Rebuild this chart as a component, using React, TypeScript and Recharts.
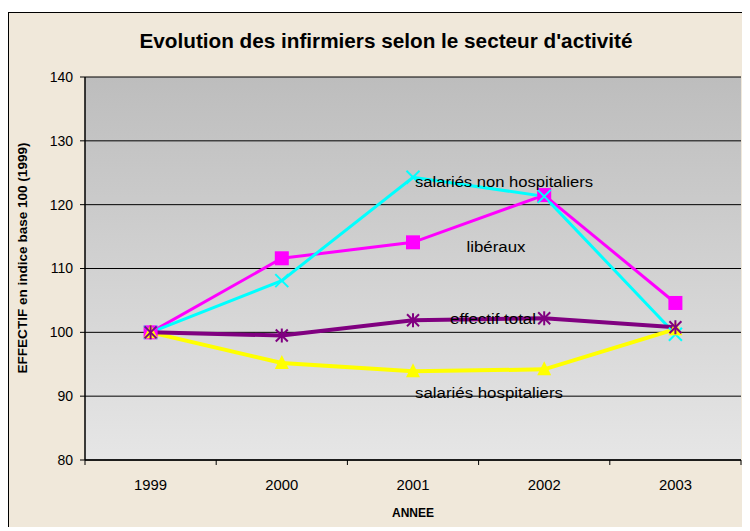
import React from 'react';
import { LineChart, Line, XAxis, YAxis, CartesianGrid } from 'recharts';

const years = ['1999', '2000', '2001', '2002', '2003'];
const liberaux = [100, 111.6, 114.1, 121.5, 104.6];
const salariesNonHosp = [100, 108.1, 124.3, 121.3, 99.7];
const effectifTotal = [100, 99.5, 101.9, 102.2, 100.8];
const salariesHosp = [100, 95.2, 93.9, 94.2, 100.5];
const yTicks = [80, 90, 100, 110, 120, 130, 140];

const data = years.map((y, i) => ({
  year: y,
  liberaux: liberaux[i],
  salariesNonHosp: salariesNonHosp[i],
  effectifTotal: effectifTotal[i],
  salariesHosp: salariesHosp[i],
}));

const FONT = 'Arial, "Liberation Sans", Helvetica, sans-serif';
const CHART_W = 741;
const CHART_H = 518;
const MARGIN = { top: 64, right: 9, left: 0, bottom: 0 };
const Y_AXIS_W = 76;
const X_AXIS_H = 71;
const BAND = (CHART_W - MARGIN.right - MARGIN.left - Y_AXIS_W) / years.length;

const SquareDot = (p: any) => {
  if (p.cx == null || p.cy == null) return <g key={p.index} />;
  return <rect key={p.index} x={p.cx - 7} y={p.cy - 7} width={14} height={14} fill="#FF00FF" />;
};
const CrossDot = (p: any) => {
  if (p.cx == null || p.cy == null) return <g key={p.index} />;
  const s = 6.5;
  return (
    <g key={p.index} stroke="#00FFFF" strokeWidth={2}>
      <line x1={p.cx - s} y1={p.cy - s} x2={p.cx + s} y2={p.cy + s} />
      <line x1={p.cx - s} y1={p.cy + s} x2={p.cx + s} y2={p.cy - s} />
    </g>
  );
};
const StarDot = (p: any) => {
  if (p.cx == null || p.cy == null) return <g key={p.index} />;
  const s = 6;
  return (
    <g key={p.index} stroke="#800080" strokeWidth={2}>
      <line x1={p.cx - s} y1={p.cy - s} x2={p.cx + s} y2={p.cy + s} />
      <line x1={p.cx - s} y1={p.cy + s} x2={p.cx + s} y2={p.cy - s} />
      <line x1={p.cx} y1={p.cy - s - 1} x2={p.cx} y2={p.cy + s + 1} />
    </g>
  );
};
const TriangleDot = (p: any) => {
  if (p.cx == null || p.cy == null) return <g key={p.index} />;
  return (
    <polygon
      key={p.index}
      points={`${p.cx},${p.cy - 8} ${p.cx + 7},${p.cy + 6} ${p.cx - 7},${p.cy + 6}`}
      fill="#FFFF00"
    />
  );
};

const XTick = (p: any) => {
  const { x, y, payload, index } = p;
  const last = index === years.length - 1;
  return (
    <g>
      <line x1={x - BAND / 2} y1={y} x2={x - BAND / 2} y2={y + 5} stroke="#000" />
      {last && <line x1={x + BAND / 2} y1={y} x2={x + BAND / 2} y2={y + 5} stroke="#000" />}
      <text
        x={x}
        y={y + 30}
        textAnchor="middle"
        fontSize={14}
        fontFamily={FONT}
        fill="#000"
        textLength={33}
        lengthAdjust="spacingAndGlyphs"
      >
        {payload.value}
      </text>
    </g>
  );
};

const annotations = [
  { text: 'salariés non hospitaliers', x: 504, y: 187, w: 178 },
  { text: 'libéraux', x: 496, y: 252, w: 59 },
  { text: 'effectif total', x: 493, y: 324, w: 86 },
  { text: 'salariés hospitaliers', x: 489, y: 398, w: 148 },
];

export default function App() {
  return (
    <div
      style={{
        position: 'relative',
        top: 4,
        width: CHART_W + 1,
        height: CHART_H + 1,
        borderLeft: '1px solid #000',
        borderTop: '1px solid #000',
        background: '#F0E8DA',
        boxSizing: 'border-box',
        overflow: 'hidden',
      }}
    >
      <svg width={0} height={0} style={{ position: 'absolute' }}>
        <defs>
          <linearGradient id="plotBg" x1="0" y1="0" x2="0" y2="1">
            <stop offset="0%" stopColor="#BDBDBD" />
            <stop offset="100%" stopColor="#E6E6E6" />
          </linearGradient>
        </defs>
      </svg>
      <LineChart width={CHART_W} height={CHART_H} data={data} margin={MARGIN}>
        <CartesianGrid vertical={false} stroke="#000" strokeWidth={1} fill="url(#plotBg)" fillOpacity={1} />
        <XAxis
          dataKey="year"
          height={X_AXIS_H}
          padding={{ left: BAND / 2, right: BAND / 2 }}
          tickSize={0}
          tickMargin={0}
          tickLine={false}
          axisLine={{ stroke: '#000', strokeWidth: 1.5 }}
          tick={<XTick />}
          interval={0}
          label={{
            value: 'ANNEE',
            position: 'insideBottom',
            offset: 14,
            style: { fontSize: 12, fontWeight: 'bold', fontFamily: FONT, fill: '#000' },
          }}
        />
        <XAxis
          xAxisId="top"
          dataKey="year"
          orientation="top"
          height={0}
          tick={false}
          tickLine={false}
          axisLine={{ stroke: '#808080', strokeWidth: 3 }}
        />
        <YAxis
          domain={[80, 140]}
          ticks={yTicks}
          width={Y_AXIS_W}
          tickSize={5}
          tickMargin={7}
          tickLine={{ stroke: '#000' }}
          axisLine={{ stroke: '#000', strokeWidth: 1.5 }}
          tick={{ fontSize: 14, fontFamily: FONT, fill: '#000' }}
          interval={0}
        />
        <YAxis
          yAxisId="right"
          orientation="right"
          width={0}
          tick={false}
          tickLine={false}
          axisLine={{ stroke: '#808080', strokeWidth: 3 }}
        />
        <Line dataKey="liberaux" stroke="#FF00FF" strokeWidth={3} dot={SquareDot} isAnimationActive={false} />
        <Line dataKey="salariesNonHosp" stroke="#00FFFF" strokeWidth={3} dot={CrossDot} isAnimationActive={false} />
        <Line dataKey="salariesHosp" stroke="#FFFF00" strokeWidth={4} dot={TriangleDot} isAnimationActive={false} />
        <Line dataKey="effectifTotal" stroke="#800080" strokeWidth={4} dot={StarDot} isAnimationActive={false} />
      </LineChart>
      <svg
        width={CHART_W}
        height={CHART_H}
        style={{ position: 'absolute', left: 0, top: 0, pointerEvents: 'none' }}
      >
        <g transform="translate(-9,-13)">
          <text
            x={386}
            y={48}
            textAnchor="middle"
            fontSize={20.5}
            fontWeight="bold"
            fontFamily={FONT}
            fill="#000"
            textLength={493}
            lengthAdjust="spacingAndGlyphs"
          >
            Evolution des infirmiers selon le secteur d'activité
          </text>
          <text
            x={27}
            y={258}
            transform="rotate(-90 27 258)"
            textAnchor="middle"
            fontSize={12.5}
            fontWeight="bold"
            fontFamily={FONT}
            fill="#000"
            textLength={231}
            lengthAdjust="spacingAndGlyphs"
          >
            EFFECTIF en indice base 100 (1999)
          </text>
          {annotations.map((a) => (
            <text
              key={a.text}
              x={a.x}
              y={a.y}
              textAnchor="middle"
              fontSize={14}
              fontFamily={FONT}
              fill="#000"
              textLength={a.w}
              lengthAdjust="spacingAndGlyphs"
            >
              {a.text}
            </text>
          ))}
        </g>
      </svg>
    </div>
  );
}
